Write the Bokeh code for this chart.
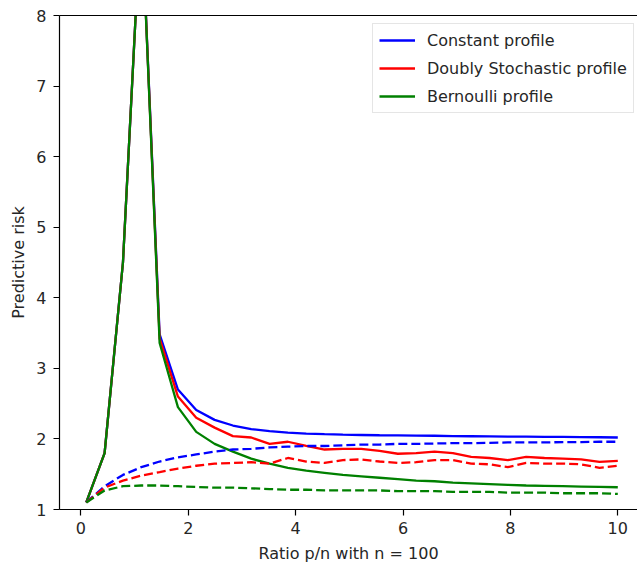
from bokeh.plotting import figure
from bokeh.models import Range1d, LinearAxis, FixedTicker, Legend, LegendItem
from bokeh.embed import file_html
from bokeh.resources import INLINE

# ---- data ----
ratio = [0.1, 0.441, 0.783, 1.124, 1.466, 1.807, 2.148, 2.49, 2.831, 3.172,
         3.514, 3.855, 4.197, 4.538, 4.879, 5.221, 5.562, 5.903, 6.245, 6.586,
         6.928, 7.269, 7.61, 7.952, 8.293, 8.634, 8.976, 9.317, 9.659, 10.0]

constant_solid = [1.10, 1.80, 4.50, 9.55, 3.48, 2.70, 2.41, 2.27, 2.19, 2.14,
                  2.11, 2.09, 2.075, 2.067, 2.06, 2.056, 2.052, 2.05, 2.047, 2.045,
                  2.04, 2.038, 2.036, 2.034, 2.032, 2.03, 2.028, 2.026, 2.024, 2.02]
doubly_solid = [1.10, 1.80, 4.50, 9.55, 3.42, 2.60, 2.30, 2.16, 2.04, 2.02,
                1.93, 1.96, 1.90, 1.85, 1.86, 1.86, 1.83, 1.79, 1.80, 1.82,
                1.80, 1.745, 1.73, 1.70, 1.745, 1.73, 1.72, 1.71, 1.675, 1.69]
bernoulli_solid = [1.10, 1.80, 4.50, 9.55, 3.36, 2.45, 2.10, 1.93, 1.82, 1.72,
                   1.65, 1.59, 1.55, 1.52, 1.49, 1.47, 1.45, 1.43, 1.41, 1.40,
                   1.38, 1.37, 1.36, 1.35, 1.34, 1.335, 1.33, 1.325, 1.32, 1.315]

constant_dashed = [1.10, 1.33, 1.49, 1.60, 1.68, 1.74, 1.78, 1.82, 1.85, 1.86,
                   1.88, 1.89, 1.90, 1.90, 1.91, 1.92, 1.92, 1.93, 1.93, 1.935,
                   1.94, 1.94, 1.945, 1.95, 1.95, 1.95, 1.955, 1.955, 1.96, 1.96]
doubly_dashed = [1.10, 1.31, 1.41, 1.48, 1.53, 1.58, 1.62, 1.65, 1.66, 1.67,
                 1.65, 1.73, 1.68, 1.66, 1.70, 1.71, 1.68, 1.66, 1.67, 1.70,
                 1.70, 1.65, 1.64, 1.60, 1.66, 1.65, 1.65, 1.64, 1.59, 1.62]
bernoulli_dashed = [1.10, 1.27, 1.33, 1.34, 1.34, 1.33, 1.32, 1.31, 1.31, 1.30,
                    1.29, 1.28, 1.28, 1.27, 1.27, 1.27, 1.27, 1.26, 1.26, 1.26,
                    1.25, 1.25, 1.25, 1.24, 1.24, 1.24, 1.23, 1.23, 1.23, 1.22]

series_labels = ["Constant profile", "Doubly Stochastic profile", "Bernoulli profile"]
series_colors = ["#0000ff", "#ff0000", "#008000"]
x_ticks = [0, 2, 4, 6, 8, 10]
y_ticks = [1, 2, 3, 4, 5, 6, 7, 8]

FONT = "DejaVu Sans"
TXT = "#262626"
FS = "16px"

p = figure(width=637, height=569, output_backend="svg", toolbar_location=None,
           x_range=Range1d(-0.399, 10.367), y_range=Range1d(1, 8),
           min_border_left=59, min_border_right=0, min_border_top=15,
           min_border_bottom=60)
p.outline_line_color = None
p.grid.visible = False
p.background_fill_color = "white"
p.border_fill_color = "white"

for ax in (p.xaxis[0], p.yaxis[0]):
    ax.axis_line_color = "black"
    ax.axis_line_width = 1.2
    ax.major_tick_line_color = "black"
    ax.major_tick_line_width = 1.2
    ax.major_tick_out = 6
    ax.major_tick_in = 0
    ax.minor_tick_line_color = None
    ax.major_label_text_font = FONT
    ax.major_label_text_font_size = FS
    ax.major_label_text_color = TXT
    ax.axis_label_text_font = FONT
    ax.axis_label_text_font_size = FS
    ax.axis_label_text_font_style = "normal"
    ax.axis_label_text_color = TXT

p.xaxis.ticker = FixedTicker(ticks=x_ticks)
p.yaxis.ticker = FixedTicker(ticks=y_ticks)
p.xaxis.axis_label = "Ratio p/n with n = 100"
p.yaxis.axis_label = "Predictive risk"
p.xaxis.major_label_standoff = 6
p.yaxis.major_label_standoff = 7
p.xaxis.axis_label_standoff = 7
p.yaxis.axis_label_standoff = 5

# top spine
top = LinearAxis(ticker=FixedTicker(ticks=[]), axis_line_color="black",
                 axis_line_width=1.2, major_tick_line_color=None,
                 minor_tick_line_color=None, major_label_text_font_size="0px",
                 major_label_standoff=0)
p.add_layout(top, "above")

solids = [constant_solid, doubly_solid, bernoulli_solid]
dashes = [constant_dashed, doubly_dashed, bernoulli_dashed]

items = []
for ys, c, lab in zip(solids, series_colors, series_labels):
    r = p.line(ratio, ys, line_color=c, line_width=2.3)
    items.append(LegendItem(label=lab, renderers=[r]))
for ys, c in zip(dashes, series_colors):
    p.line(ratio, ys, line_color=c, line_width=2.3, line_dash="9 4")

legend = Legend(items=items, location=(313, 396), padding=6, spacing=8,
                glyph_width=36, glyph_height=20, label_standoff=12,
                label_text_font=FONT, label_text_font_size=FS,
                label_text_color=TXT, border_line_color="#cccccc",
                border_line_width=1, background_fill_alpha=0.8, margin=0)
p.add_layout(legend, "center")

open("out.html", "w").write(file_html(p, INLINE))
